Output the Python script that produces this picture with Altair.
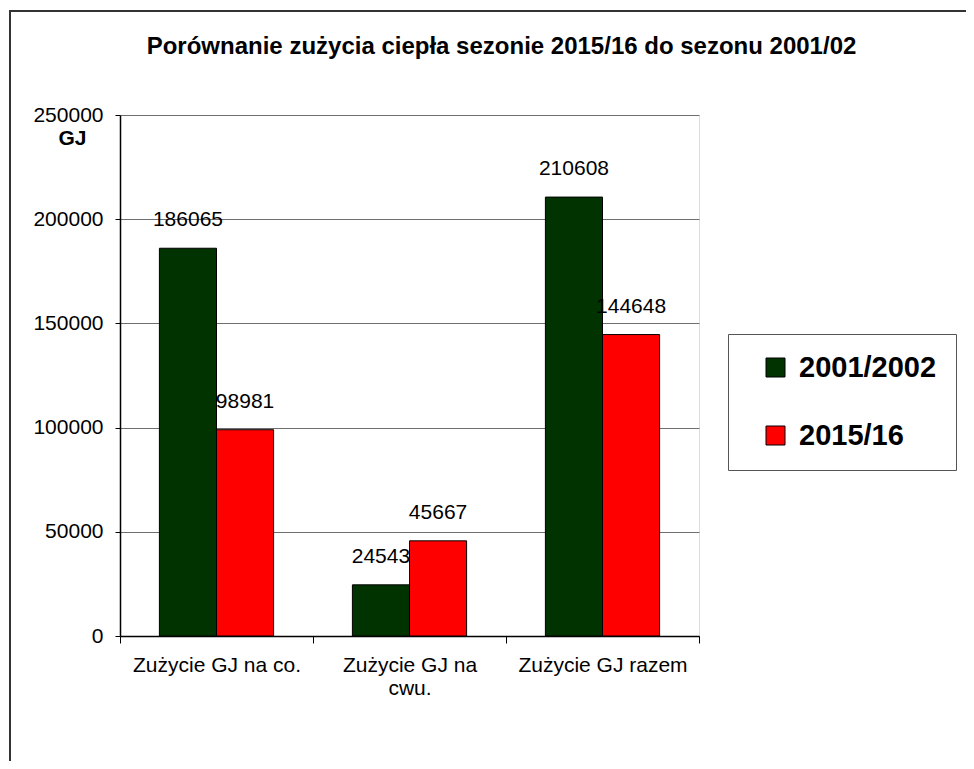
import altair as alt
import pandas as pd

categories = ["Zużycie GJ na co.", "Zużycie GJ na cwu.", "Zużycie GJ razem"]
series = ["2001/2002", "2015/16"]
values_2001 = [186065, 24543, 210608]
values_2015 = [98981, 45667, 144648]
colors = ["#003300", "#FF0000"]
y_ticks = [0, 50000, 100000, 150000, 200000, 250000]

rows = []
for c, a, b in zip(categories, values_2001, values_2015):
    rows.append({"kat": c, "sezon": series[0], "GJ": a})
    rows.append({"kat": c, "sezon": series[1], "GJ": b})
df = pd.DataFrame(rows)

FONT = "Liberation Sans"
W, H = 579, 521
PL, PT = 112, 107
PR = 958 - PL - W
PB = 753 - PT - H

x_enc = alt.X("kat:N", sort=categories, title=None,
              scale=alt.Scale(paddingInner=0, paddingOuter=0),
              axis=alt.Axis(tickBand="extent", labelAngle=0, labelFontSize=21,
                            labelFont=FONT, labelColor="black", labelPadding=11,
                            tickSize=7, tickColor="black", domainColor="black",
                            domainWidth=1.5, labelLineHeight=23,
                            labelExpr="datum.label == 'Zużycie GJ na cwu.' ? ['Zużycie GJ na', 'cwu.'] : datum.label",
                            grid=False))
xo_enc = alt.XOffset("sezon:N", sort=series,
                     scale=alt.Scale(paddingOuter=0.69, paddingInner=0))

bars = alt.Chart(df).mark_bar(stroke="black", strokeWidth=1).encode(
    x=x_enc,
    xOffset=xo_enc,
    y=alt.Y("GJ:Q", scale=alt.Scale(domain=[0, 250000], nice=False),
            axis=alt.Axis(values=y_ticks, format="d", labelFontSize=21, labelFont=FONT,
                          labelColor="black", tickSize=5, tickColor="black",
                          labelPadding=12, domainColor="black", domainWidth=1.5,
                          grid=True, gridColor="#6e6e6e", gridWidth=1,
                          title="GJ", titleAngle=0, titleFont=FONT, titleFontSize=21,
                          titleFontWeight="bold", titleColor="black", titleAlign="left",
                          titleBaseline="middle", titleX=-62, titleY=23)),
    color=alt.Color("sezon:N", sort=series,
                    scale=alt.Scale(domain=series, range=colors),
                    legend=alt.Legend(title=None, orient="none", legendX=608, legendY=219,
                                      symbolType="square", symbolSize=361,
                                      symbolStrokeColor="black", symbolStrokeWidth=1,
                                      labelFontSize=29, labelFont=FONT,
                                      labelFontWeight="bold", labelColor="black",
                                      labelOffset=9, symbolOffset=14, padding=19,
                                      rowPadding=38, strokeColor="#555555",
                                      fillColor="white")),
)

labels = alt.Chart(df).mark_text(baseline="bottom", dy=-18, fontSize=21, font=FONT,
                                 color="black").encode(
    x=alt.X("kat:N", sort=categories),
    xOffset=alt.XOffset("sezon:N", sort=series),
    y=alt.Y("GJ:Q"),
    text=alt.Text("GJ:Q", format="d"),
)

frame = alt.Chart(pd.DataFrame({"f": [0]})).mark_rect(
    fill=None, stroke="#333333", strokeWidth=2).encode(
    x=alt.value(-110), x2=alt.value(900), y=alt.value(-104), y2=alt.value(700))

chart = alt.layer(frame, bars, labels).properties(
    width=W, height=H,
    autosize=alt.AutoSizeParams(type="none"),
    padding={"left": PL, "top": PT, "right": PR, "bottom": PB},
    title=alt.TitleParams(
        "Porównanie zużycia ciepła sezonie 2015/16 do sezonu 2001/02",
        font=FONT, fontSize=24, fontWeight="bold", color="black",
        anchor="middle", frame="group", dx=92, offset=-49),
).configure_view(fill="#CCFFFF", stroke="#808080", strokeWidth=2
).configure(background="white")

chart.save("out.html", embed_options={"renderer": "svg", "actions": False})
